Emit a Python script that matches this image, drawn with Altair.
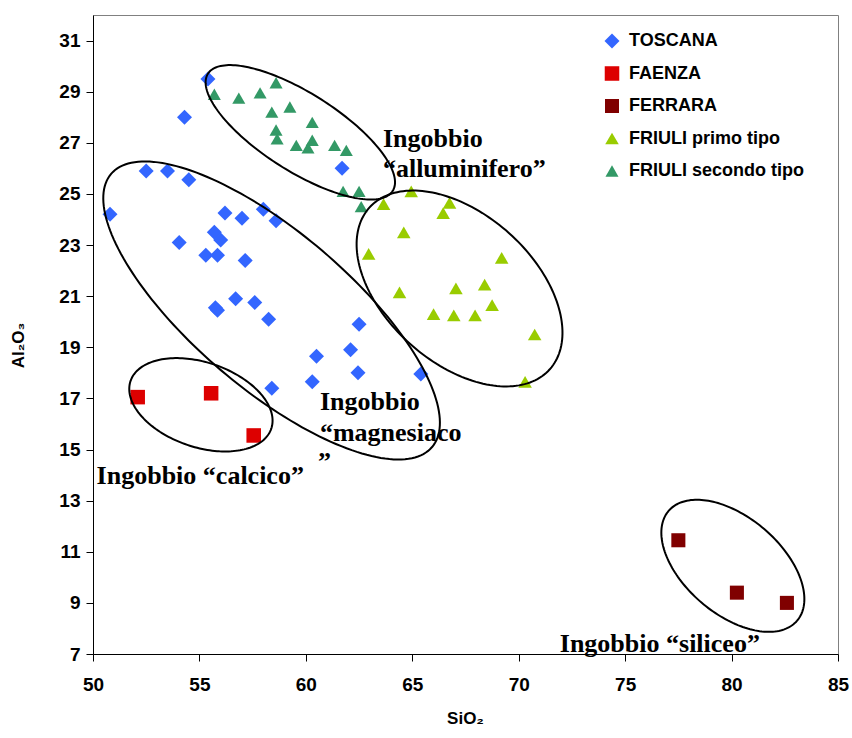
import altair as alt
import pandas as pd
import numpy as np

# ---------------- data ----------------
SERIES = ["TOSCANA", "FAENZA", "FERRARA", "FRIULI primo tipo", "FRIULI secondo tipo"]
COLORS = ["#3366FF", "#DD0000", "#800000", "#99CC00", "#339966"]
SHAPES = ["diamond", "square", "square", "triangle-up", "triangle-up"]
SIZES = [225, 170, 170, 235, 235]

toscana_x = [55.4, 54.3, 52.5, 53.5, 54.5, 61.7, 50.8, 56.2, 57.0, 58.0, 58.6, 55.7, 56.0, 54.05,
             55.3, 55.85, 57.15, 56.7, 57.6, 55.75, 55.85, 58.25, 62.5, 62.1, 60.5, 62.45, 65.4, 60.3, 58.4]
toscana_y = [29.5, 28.0, 25.9, 25.9, 25.55, 26.0, 24.2, 24.25, 24.05, 24.4, 23.95, 23.5, 23.2, 23.1,
             22.6, 22.6, 22.4, 20.9, 20.75, 20.55, 20.45, 20.1, 19.9, 18.9, 18.65, 18.0, 17.95, 17.65, 17.4]

faenza_x = [52.1, 55.55, 57.55]
faenza_y = [17.05, 17.2, 15.55]

ferrara_x = [77.5, 80.25, 82.6]
ferrara_y = [11.45, 9.4, 9.0]

friuli1_x = [63.65, 64.95, 66.75, 66.45, 64.6, 62.95, 69.2, 64.4, 67.05, 68.4, 68.75, 66.0, 66.95, 67.95, 70.75, 70.3]
friuli1_y = [24.6, 25.1, 24.65, 24.25, 23.5, 22.65, 22.5, 21.15, 21.3, 21.45, 20.65, 20.3, 20.25, 20.25, 19.5, 17.65]

friuli2_x = [55.7, 56.85, 57.85, 58.6, 58.4, 59.25, 58.6, 58.65, 60.3, 59.55, 60.1, 60.3, 61.35, 61.9, 61.75, 62.5, 62.6]
friuli2_y = [28.9, 28.75, 28.95, 29.35, 28.2, 28.4, 27.5, 27.15, 27.8, 26.9, 26.8, 27.1, 26.9, 26.7, 25.1, 25.1, 24.5]

X_DOMAIN = [50, 85]
Y_DOMAIN = [7, 32]
X_TICKS = [50, 55, 60, 65, 70, 75, 80, 85]
Y_TICKS = [7, 9, 11, 13, 15, 17, 19, 21, 23, 25, 27, 29, 31]

# annotation ellipses: name, centre SiO2, centre Al2O3, semi-major, semi-minor (SiO2 units), angle (deg)
ELLIPSES = [
    ("alluminifero", 59.74, 27.41, 5.14, 1.83, -32.4),
    ("magnesiaco", 58.39, 20.44, 9.90, 3.68, -40.4),
    ("calcico", 55.07, 16.75, 3.49, 1.99, -18.75),
    ("primo", 67.22, 21.30, 5.69, 3.49, -41.85),
    ("siliceo", 80.06, 10.45, 3.97, 2.27, -40.5),
]

# annotation texts: text, SiO2, Al2O3 (baseline, left)
LABELS = [
    ("Ingobbio", 63.62, 26.85),
    ("\u201calluminifero\u201d", 63.62, 25.68),
    ("Ingobbio", 60.66, 16.55),
    ("\u201cmagnesiaco", 60.66, 15.35),
    ("\u201d", 60.57, 14.2),
    ("Ingobbio \u201ccalcico\u201d", 50.17, 13.66),
    ("Ingobbio \u201csiliceo\u201d", 71.93, 7.09),
]

# ---------------- layout ----------------
W, H = 745, 639
sx = W / (X_DOMAIN[1] - X_DOMAIN[0])
sy = H / (Y_DOMAIN[1] - Y_DOMAIN[0])

rows = []
for name, xs, ys in zip(SERIES, [toscana_x, faenza_x, ferrara_x, friuli1_x, friuli2_x],
                        [toscana_y, faenza_y, ferrara_y, friuli1_y, friuli2_y]):
    for x, y in zip(xs, ys):
        rows.append({"serie": name, "SiO2": x, "Al2O3": y})
pts = pd.DataFrame(rows)

erows = []
t = np.linspace(0, 2 * np.pi, 181)
for name, cx, cy, a, b, ang in ELLIPSES:
    th = np.deg2rad(ang)
    u = a * sx * np.cos(t)
    v = b * sx * np.sin(t)
    dx = u * np.cos(th) - v * np.sin(th)
    dy = u * np.sin(th) + v * np.cos(th)
    for i in range(len(t)):
        erows.append({"e": name, "i": i, "SiO2": cx + dx[i] / sx, "Al2O3": cy + dy[i] / sy})
ell = pd.DataFrame(erows)

lab = pd.DataFrame(LABELS, columns=["txt", "SiO2", "Al2O3"])

xscale = alt.Scale(domain=X_DOMAIN, nice=False, zero=False)
yscale = alt.Scale(domain=Y_DOMAIN, nice=False, zero=False)

xaxis = alt.Axis(values=X_TICKS, grid=False, title="SiO\u2082", tickSize=7, labelPadding=14,
                 labelFlush=False,
                 labelFontSize=19, labelFontWeight="bold", labelFont="Liberation Sans",
                 titleFontSize=17, titleFontWeight="bold", titleFont="Liberation Sans",
                 titleX=372, titleY=64, titleBaseline="middle",
                 domainColor="black", tickColor="black", labelColor="black", titleColor="black")
yaxis = alt.Axis(values=Y_TICKS, grid=False, title="Al\u2082O\u2083", tickSize=7, labelPadding=6,
                 labelFlush=False,
                 labelFontSize=19, labelFontWeight="bold", labelFont="Liberation Sans",
                 titleFontSize=17, titleFontWeight="bold", titleFont="Liberation Sans",
                 titleX=-75, titleY=330, titleAngle=270, titleAlign="center", titleBaseline="middle",
                 domainColor="black", tickColor="black", labelColor="black", titleColor="black")

points = alt.Chart(pts).mark_point(filled=True, opacity=1, strokeWidth=0).encode(
    x=alt.X("SiO2:Q", scale=xscale, axis=xaxis),
    y=alt.Y("Al2O3:Q", scale=yscale, axis=yaxis),
    color=alt.Color("serie:N", scale=alt.Scale(domain=SERIES, range=COLORS),
                    legend=alt.Legend(title=None, orient="none", legendX=510, legendY=17,
                                      labelFontSize=18, labelFontWeight="bold",
                                      labelFont="Liberation Sans", labelColor="black",
                                      labelLimit=400,
                                      symbolSize=130, symbolStrokeWidth=0, labelOffset=8,
                                      rowPadding=14.5, padding=0, symbolType="circle")),
    shape=alt.Shape("serie:N", scale=alt.Scale(domain=SERIES, range=SHAPES)),
    size=alt.Size("serie:N", scale=alt.Scale(domain=SERIES, range=SIZES), legend=None),
)

ellipses = alt.Chart(ell).mark_line(color="black", strokeWidth=2, clip=True).encode(
    x=alt.X("SiO2:Q", scale=xscale),
    y=alt.Y("Al2O3:Q", scale=yscale),
    detail="e:N",
    order="i:Q",
)

texts = alt.Chart(lab).mark_text(font="Liberation Serif", fontWeight="bold", fontSize=26,
                                 align="left", baseline="alphabetic", color="black").encode(
    x=alt.X("SiO2:Q", scale=xscale),
    y=alt.Y("Al2O3:Q", scale=yscale),
    text="txt:N",
)

chart = alt.layer(points, ellipses, texts).properties(
    width=W, height=H,
    autosize=alt.AutoSizeParams(type="none"),
    padding={"left": 93, "top": 15, "right": 14, "bottom": 84},
    background="white",
).configure_view(stroke="#808080", strokeWidth=1)

chart.save("out.html", embed_options={"renderer": "svg", "actions": False})
